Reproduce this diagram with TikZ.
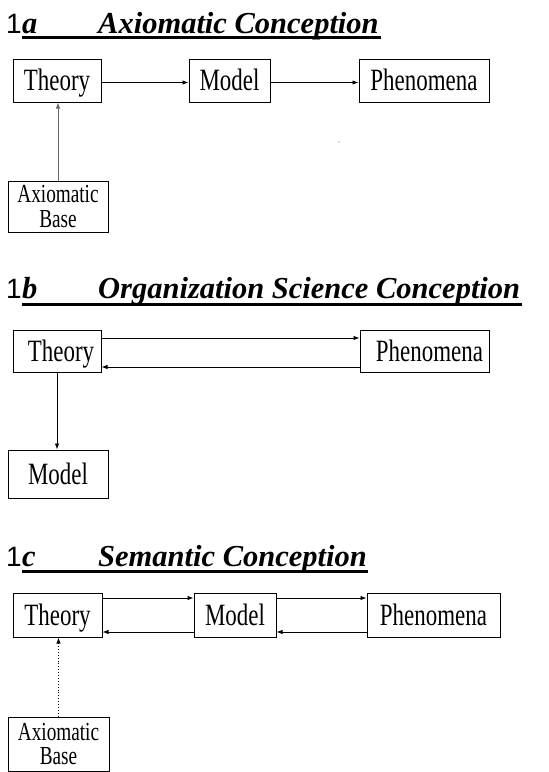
\documentclass[tikz,border=0pt]{standalone}
\usepackage{fontspec}
\setmainfont{Liberation Serif}
\newfontfamily\numfont{Liberation Sans}
\newfontfamily\boxfont[FakeStretch=0.74]{Liberation Serif}
\usepackage{tikz}
\usetikzlibrary{arrows.meta, positioning, calc}

\begin{document}
\begin{tikzpicture}[
    x=1pt, y=-1pt,
    box/.style={draw=black, line width=1pt, inner sep=0pt, align=center, text height=21pt, text depth=0.5pt, font=\fontsize{31}{34}\boxfont},
    basebox/.style={draw=black, line width=1pt, inner sep=0pt, align=center, minimum width=100pt, font=\fontsize{26}{24.5}\boxfont},
    title/.style={anchor=base west, inner sep=0pt, font=\fontsize{30.5}{34}\selectfont\bfseries\itshape},
    num/.style={anchor=base east, inner sep=0pt, font=\fontsize{28}{34}\selectfont\numfont},
    uline/.style={line width=3pt},
    arr/.style={-{Latex[length=6pt, width=4.5pt]}, line width=0.9pt},
]
\useasboundingbox (0,0) rectangle (549,772);

% 1a: axiomatic conception
\node[num] (n1a) at (22,33) {1};
\node[title] (l1a) at (22,33) {a};
\node[title] (t1a) at (98,33) {Axiomatic Conception};
\draw[uline] (22,37.5) -- (381,37.5);

\node[box, minimum width=88pt, minimum height=43pt] (th1) at (57,80.5) {Theory};
\node[box, minimum width=81pt, minimum height=43pt] (mo1) at (229.5,80.5) {Model};
\node[box, minimum width=130pt, minimum height=43pt] (ph1) at (424,80.5) {Phenomena};
\node[basebox, minimum height=51pt] (ax1) at (58,206.5) {Axiomatic\\Base};

\draw[arr] ([yshift=-2pt]th1.east) -- ([yshift=-2pt]mo1.west);
\draw[arr] ([yshift=-2pt]mo1.east) -- ([yshift=-2pt]ph1.west);
\draw[arr, draw=black!60] (ax1.north) -- (ax1.north |- th1.south);
\fill[black!60] (339,142) circle (0.6pt);

% 1b: organization science conception
\node[num] (n1b) at (22,298.5) {1};
\node[title] (l1b) at (22,298.5) {b};
\node[title] (t1b) at (98,298.5) {Organization Science Conception};
\draw[uline] (22,304) -- (522,304);

\node[box, minimum width=88pt, minimum height=42pt] (th2) at (57,351) {\hspace*{8pt}Theory};
\node[box, minimum width=129pt, minimum height=42pt] (ph2) at (424.5,351) {\hspace*{10pt}Phenomena};
\node[box, minimum width=100pt, minimum height=48pt] (mo2) at (58,474) {Model};

\draw[arr] ([yshift=13pt]th2.east) -- ([yshift=13pt]ph2.west);
\draw[arr] ([yshift=-16pt]ph2.west) -- ([yshift=-16pt]th2.east);
\draw[arr] (th2.south) -- (th2.south |- mo2.north);

% 1c: semantic conception
\node[num] (n1c) at (22,566) {1};
\node[title] (l1c) at (22,566) {c};
\node[title] (t1c) at (98,566) {Semantic Conception};
\draw[uline] (22,571.5) -- (368,571.5);

\node[box, minimum width=89pt, minimum height=44pt] (th3) at (57.5,615) {Theory};
\node[box, minimum width=82pt, minimum height=44pt] (mo3) at (235,615) {Model};
\node[box, minimum width=133pt, minimum height=44pt] (ph3) at (433.5,615) {Phenomena};
\node[basebox, minimum width=101pt, minimum height=54pt] (ax3) at (58.5,744) {Axiomatic\\Base};

\draw[arr] ([yshift=17pt]th3.east) -- ([yshift=17pt]mo3.west);
\draw[arr] ([yshift=17pt]mo3.east) -- ([yshift=17pt]ph3.west);
\draw[arr] ([yshift=-17pt]ph3.west) -- ([yshift=-17pt]mo3.east);
\draw[arr] ([yshift=-17pt]mo3.west) -- ([yshift=-17pt]th3.east);
\draw[arr, dotted] (ax3.north) -- (ax3.north |- th3.south);

\end{tikzpicture}
\end{document}
